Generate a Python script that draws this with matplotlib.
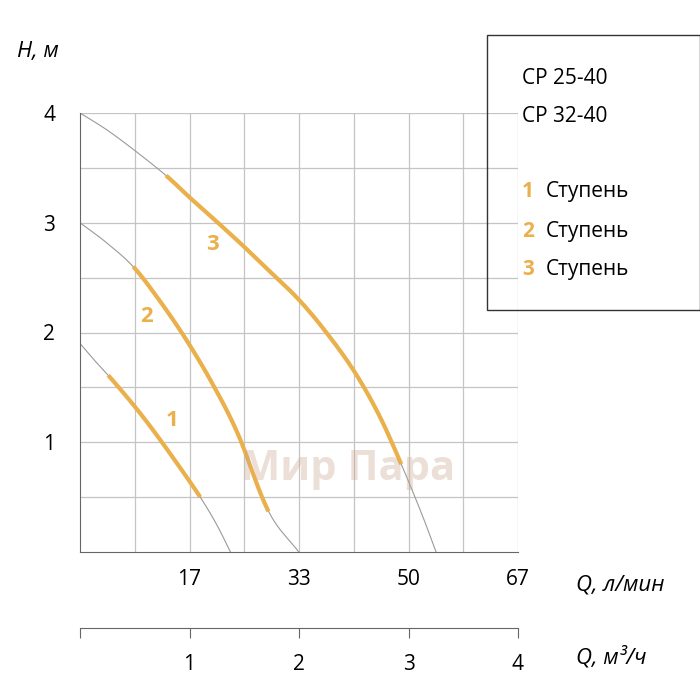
import matplotlib
matplotlib.use("Agg")
import matplotlib.pyplot as plt
import numpy as np

plt.rcParams['font.family'] = ['Open Sans', 'DejaVu Sans']

# Full pump curves (Q in l/min, H in m)
q3 = [0, 4, 8.3, 13.1, 16.7, 21, 25, 29, 33.3, 37.5, 41.7, 45.5, 48.9, 52, 54.2]
h3 = [4.0, 3.85, 3.66, 3.43, 3.23, 3.0, 2.78, 2.55, 2.3, 2.0, 1.65, 1.25, 0.8, 0.35, 0.0]
q2 = [0, 4, 8.1, 12, 16, 20, 24, 28.7, 33.3]
h2 = [3.0, 2.82, 2.6, 2.3, 1.95, 1.55, 1.08, 0.37, 0.0]
q1 = [0, 2, 4.3, 8, 11, 14.5, 18.3, 20.8, 22.9]
h1 = [1.9, 1.76, 1.61, 1.35, 1.12, 0.83, 0.5, 0.25, 0.0]
# Operating ranges (orange)
rng = [(4.3, 18.3), (8.1, 28.7), (13.1, 48.9)]
step_labels = ['1', '2', '3']
label_pos = [(14.0, 1.2), (10.2, 2.15), (20.2, 2.8)]
xticks_lmin = [16.67, 33.33, 50, 66.67]
xtick_lbl = ['17', '33', '50', '67']
m3_ticks = [1, 2, 3, 4]


def smooth(q, h, n=20):
    """Catmull-Rom spline through the read points."""
    P = np.column_stack([q, h]).astype(float)
    P = np.vstack([2 * P[0] - P[1], P, 2 * P[-1] - P[-2]])
    out = []
    t = np.linspace(0, 1, n, endpoint=False)[:, None]
    for i in range(1, len(P) - 2):
        p0, p1, p2, p3 = P[i - 1], P[i], P[i + 1], P[i + 2]
        seg = 0.5 * ((2 * p1) + (-p0 + p2) * t + (2 * p0 - 5 * p1 + 4 * p2 - p3) * t**2
                     + (-p0 + 3 * p1 - 3 * p2 + p3) * t**3)
        out.append(seg)
    out.append(P[-2][None, :])
    S = np.vstack(out)
    return S[:, 0], S[:, 1]


fig = plt.figure(figsize=(7, 7), dpi=100)
ax = fig.add_axes([80/700, 148/700, 438/700, 439/700])
ax.set_xlim(0, 66.67)
ax.set_ylim(0, 4)
grid_c = '#c4c4c4'
for x in np.arange(1, 9) * 66.67/8:
    ax.axvline(x, color=grid_c, lw=0.9, zorder=0)
for y in np.arange(1, 9) * 0.5:
    ax.axhline(y, color=grid_c, lw=0.9, zorder=0)
orange = '#e9b04c'
for (q, h), (a, b), lab, (lx, ly) in zip([(q1, h1), (q2, h2), (q3, h3)], rng, step_labels, label_pos):
    sq, sh = smooth(q, h)
    ax.plot(sq, sh, color='#9a9a9a', lw=0.8, zorder=2)
    m = (sq >= a) & (sq <= b)
    ax.plot(sq[m], sh[m], color=orange, lw=3, zorder=3, solid_capstyle='butt')
    ax.text(lx, ly, lab, color=orange, fontsize=16, fontweight='bold', ha='center', va='center')

for s in ['top', 'right']:
    ax.spines[s].set_visible(False)
ax.spines['left'].set_color('#666')
ax.spines['bottom'].set_color('#666')
ax.set_xticks(xticks_lmin)
ax.set_xticklabels(xtick_lbl, fontsize=15)
ax.set_yticks([1, 2, 3, 4])
ax.set_yticklabels(['1', '2', '3', '4'], fontsize=15)
ax.tick_params(length=0, pad=12)
ax.tick_params(axis='y', pad=18)

fig.text(38/700, 1-52/700, 'H, м', fontsize=16, style='italic', ha='center', va='center')
fig.text(576/700, 1-585/700, 'Q, л/мин', fontsize=16, style='italic', ha='left', va='center')
fig.text(576/700, 1-657/700, 'Q, м³/ч', fontsize=16, style='italic', ha='left', va='center')

ax2 = fig.add_axes([80/700, 72/700, 438/700, 0.001])
ax2.set_xlim(0, 4)
for s in ['top', 'right', 'left']:
    ax2.spines[s].set_visible(False)
ax2.spines['bottom'].set_color('#666')
ax2.set_yticks([])
ax2.set_xticks([0] + m3_ticks)
ax2.set_xticklabels([''] + [str(t) for t in m3_ticks], fontsize=15)
ax2.tick_params(axis='x', length=7, direction='out', color='#666', pad=12)

# Legend box
box = plt.Rectangle((487/700, 1-310/700), 213/700, 275/700, transform=fig.transFigure,
                    fill=False, edgecolor='#333', lw=1)
fig.add_artist(box)
fig.text(522/700, 1-78/700, 'CP 25-40', fontsize=15, va='center')
fig.text(522/700, 1-117/700, 'CP 32-40', fontsize=15, va='center')
for i, y in enumerate([192, 231, 269]):
    fig.text(522/700, 1-y/700, step_labels[i], fontsize=15, fontweight='bold', color=orange, va='center')
    fig.text(546/700, 1-y/700, 'Ступень', fontsize=15, va='center')

fig.text(348/700, 1-470/700, 'Мир Пара', fontsize=30, fontweight='bold', color='#c9a58f',
         alpha=0.35, ha='center', va='center')

fig.savefig('out.png', dpi=100)
